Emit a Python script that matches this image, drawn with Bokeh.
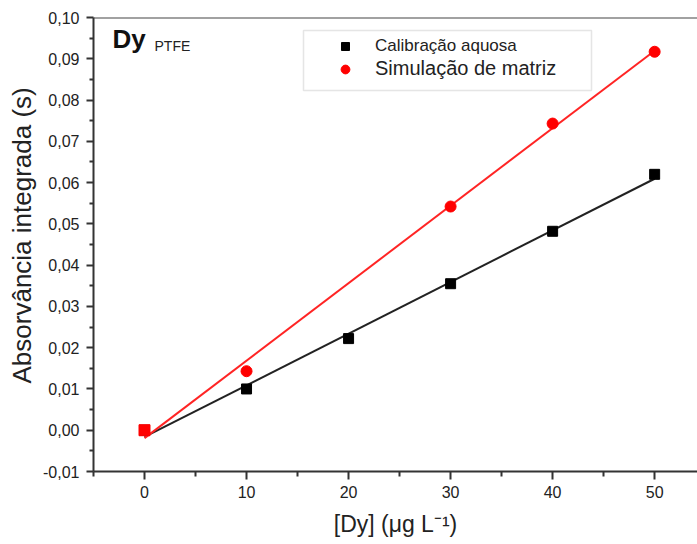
import numpy as np
from bokeh.plotting import figure
from bokeh.models import (ColumnDataSource, Range1d, FixedTicker, CustomJSTickFormatter,
                          Legend, LegendItem, Label, Span, BoxAnnotation, Title)
from bokeh.embed import file_html
from bokeh.resources import INLINE

# Data
x_aq = [0, 10, 20, 30, 40, 50]
y_aq = [0.0, 0.0100, 0.0222, 0.0355, 0.0482, 0.0620]
x_mat = [0, 10, 30, 40, 50]
y_mat = [0.0, 0.0143, 0.0542, 0.0743, 0.0917]
mat_markers = ["square", "circle", "circle", "circle", "circle"]
y_ticks = [-0.01, 0.0, 0.01, 0.02, 0.03, 0.04, 0.05, 0.06, 0.07, 0.08, 0.09, 0.10]
x_ticks = [0, 10, 20, 30, 40, 50]

FONT = "Liberation Sans"

p = figure(width=697, height=544, output_backend="svg", toolbar_location=None,
           x_range=Range1d(-5, 54.2), y_range=Range1d(-0.01, 0.10),
           min_border_left=93, min_border_right=0, min_border_top=17, min_border_bottom=73)
p.outline_line_color = None
p.xgrid.visible = False
p.ygrid.visible = False
p.background_fill_color = "white"
p.border_fill_color = "white"

# Fit lines (least squares)
xl = np.array([0, 50])
ka, ba = np.polyfit(x_aq, y_aq, 1)
km, bm = np.polyfit(x_mat, y_mat, 1)
p.line(xl, ka * xl + ba, line_color="#222222", line_width=2)
p.line(xl, km * xl + bm, line_color="#ff2424", line_width=2)

r_aq = p.scatter(x_aq, y_aq, marker="square", size=10, color="#000000")
src_m = ColumnDataSource(dict(x=x_mat, y=y_mat, m=mat_markers))
r_mat = p.scatter("x", "y", marker="m", size=11, color="#ff0000", source=src_m)

# Top border line
p.add_layout(Span(location=0.10, dimension="width", line_color="#444444", line_width=2))

# Axes
for ax in (p.xaxis[0], p.yaxis[0]):
    ax.axis_line_width = 2
    ax.axis_line_color = "#333333"
    ax.major_tick_line_color = "#333333"
    ax.minor_tick_line_color = "#333333"
    ax.major_tick_line_width = 2
    ax.minor_tick_line_width = 2
    ax.major_tick_in = 0
    ax.minor_tick_in = 0
    ax.major_label_text_font = FONT
    ax.major_label_text_font_size = "16px"
    ax.major_label_text_color = "#222222"
    ax.axis_label_text_font = FONT
    ax.axis_label_text_font_style = "normal"
    ax.axis_label_text_color = "#222222"

p.yaxis[0].ticker = FixedTicker(ticks=y_ticks,
                                minor_ticks=[round(t + 0.005, 3) for t in y_ticks[:-1]])
p.yaxis[0].formatter = CustomJSTickFormatter(code="return tick.toFixed(2).replace('.', ',');")
p.yaxis[0].major_tick_out = 7
p.yaxis[0].minor_tick_out = 4
p.yaxis[0].major_label_standoff = 7

p.xaxis[0].ticker = FixedTicker(ticks=x_ticks, minor_ticks=[-5, 5, 15, 25, 35, 45])
p.xaxis[0].major_tick_out = 8
p.xaxis[0].minor_tick_out = 5
p.xaxis[0].major_label_standoff = 6
p.xaxis[0].axis_label = "[Dy] (\u03bcg L\u207b\u00b9)"
p.xaxis[0].axis_label_text_font_size = "23px"
p.xaxis[0].axis_label_standoff = 10

# Y axis title (side-panel title)
p.add_layout(Title(text="Absorvância integrada (s)", align="left", offset=88,
                   text_font=FONT, text_font_size="26px", text_font_style="normal",
                   text_color="#222222", standoff=7), "left")

# Legend frame and entries
p.add_layout(BoxAnnotation(left=210, right=498, bottom=381, top=441,
                           left_units="screen", right_units="screen",
                           bottom_units="screen", top_units="screen",
                           fill_color="white", fill_alpha=1,
                           line_color="#aaaaaa", line_width=1.5))
leg_a = Legend(items=[LegendItem(label="Calibração aquosa", renderers=[r_aq], index=0)],
               location=(230, 415), padding=0, margin=0, glyph_width=44, glyph_height=20,
               label_height=20, label_standoff=8,
               label_text_font=FONT, label_text_font_size="17px", label_text_color="#222222",
               border_line_color=None, background_fill_alpha=0)
leg_b = Legend(items=[LegendItem(label="Simulação de matriz", renderers=[r_mat], index=1)],
               location=(230, 391), padding=0, margin=0, glyph_width=44, glyph_height=22,
               label_height=22, label_standoff=8,
               label_text_font=FONT, label_text_font_size="20px", label_text_color="#222222",
               border_line_color=None, background_fill_alpha=0)
p.add_layout(leg_a)
p.add_layout(leg_b)

# Annotation text
p.add_layout(Label(x=19, y=418, x_units="screen", y_units="screen", text="Dy",
                   text_font=FONT, text_font_size="26px", text_font_style="bold",
                   text_color="#111111"))
p.add_layout(Label(x=61, y=418, x_units="screen", y_units="screen", text="PTFE",
                   text_font=FONT, text_font_size="14px", text_color="#222222"))

open("out.html", "w").write(file_html(p, INLINE))
